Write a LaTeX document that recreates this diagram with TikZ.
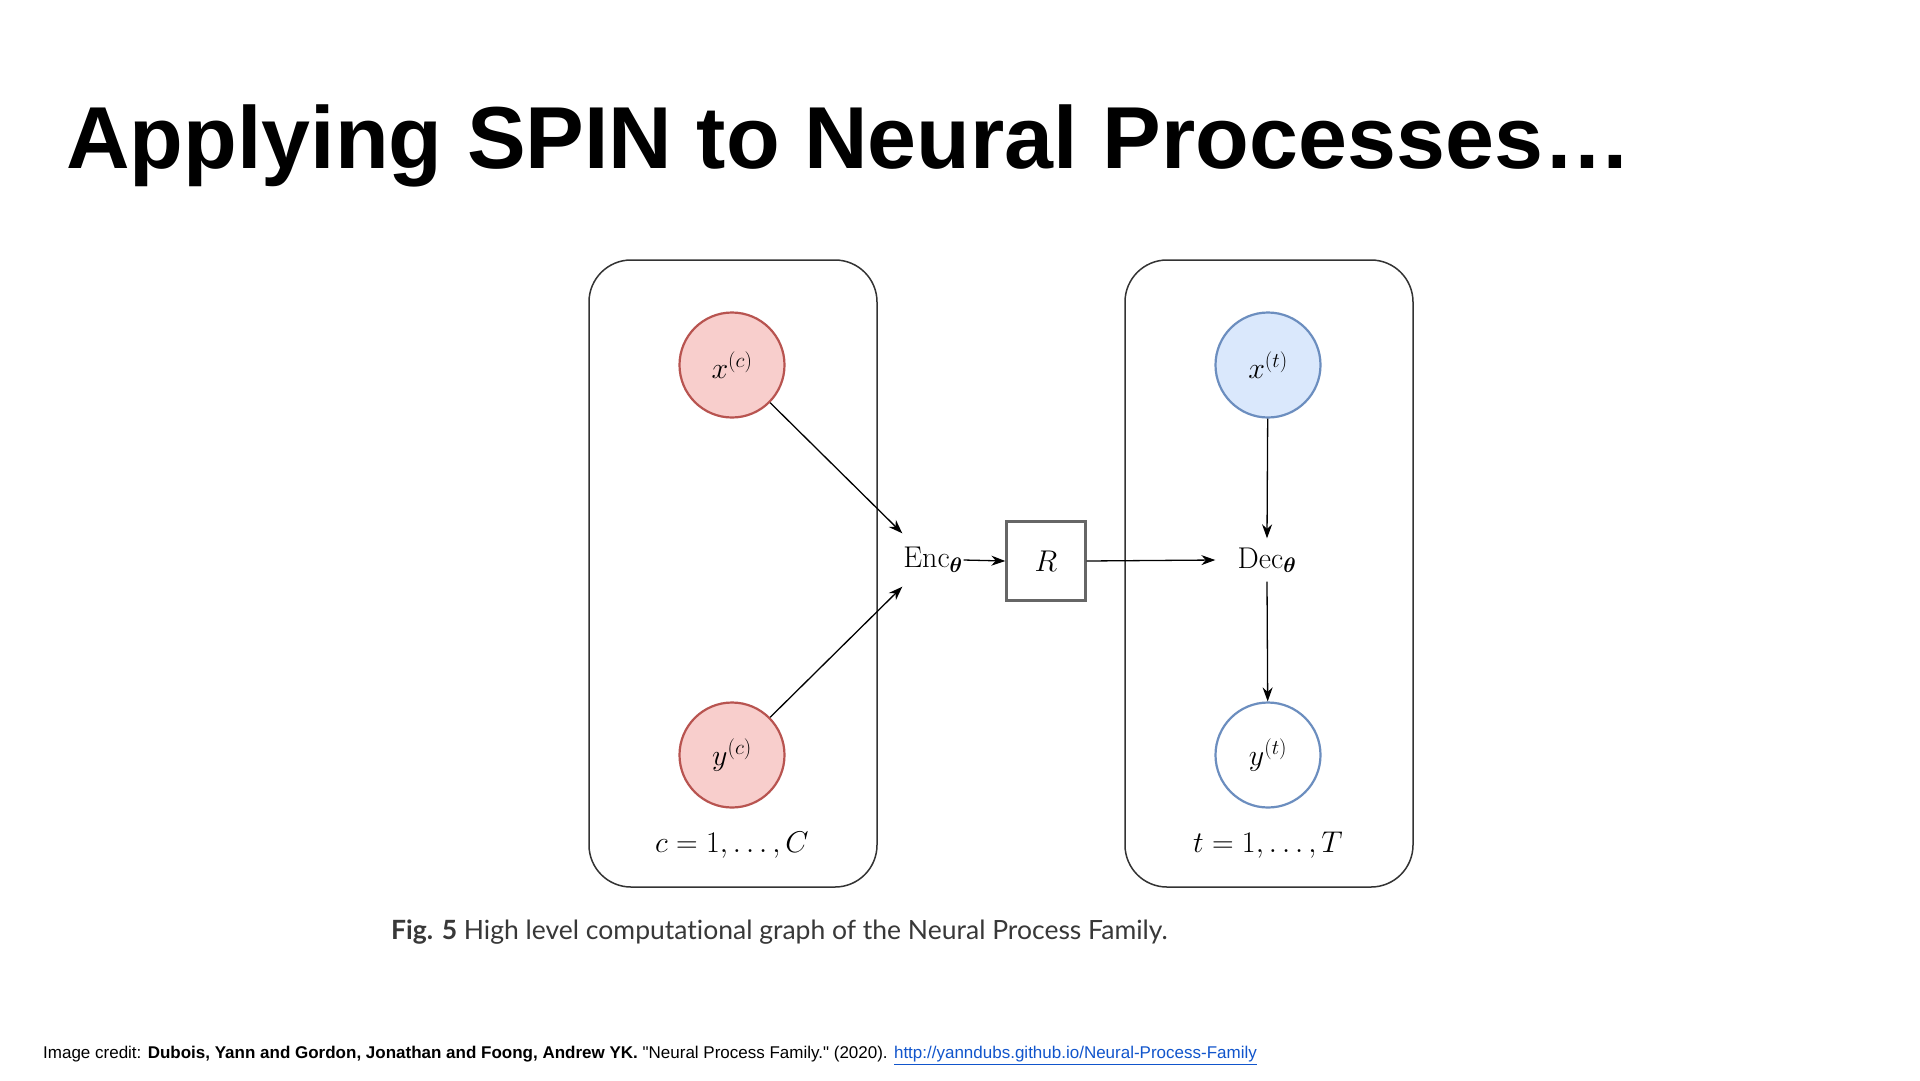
\RequirePackage{fix-cm}
\documentclass[tikz,border=0pt]{standalone}
\usepackage{amsmath,bm}
\usepackage{fontspec}
\newfontfamily\titlefont{Liberation Sans}
\newfontfamily\capfont[Ligatures=NoCommon]{Lato}
\usetikzlibrary{arrows.meta}
\definecolor{redfill}{HTML}{F8CECC}
\definecolor{redline}{HTML}{B85450}
\definecolor{bluefill}{HTML}{DAE8FC}
\definecolor{blueline}{HTML}{6C8EBF}
\definecolor{linkblue}{HTML}{1155CC}
\definecolor{capgray}{HTML}{383838}
\definecolor{boxgray}{HTML}{333333}
\tikzset{
  plate/.style={draw=boxgray, line width=1.5pt, rounded corners=42pt},
  varnode/.style={circle, minimum size=105pt, inner sep=0pt, line width=2.2pt, font=\fontsize{30}{36}\selectfont},
  ctxnode/.style={varnode, draw=redline, fill=redfill},
  tgtnode/.style={varnode, draw=blueline, fill=bluefill},
  outnode/.style={varnode, draw=blueline, fill=white},
  mathlabel/.style={inner sep=0pt, font=\fontsize{30}{36}\selectfont},
  rbox/.style={draw=black!60, line width=2.4pt, minimum size=79pt, inner sep=0pt, font=\fontsize{30}{36}\selectfont},
  conn/.style={-{Stealth[length=14pt,width=10pt]}, line width=1.3pt, black},
}
\begin{document}
\begin{tikzpicture}[x=1pt,y=-1pt]
\useasboundingbox[fill=white] (0,0) rectangle (1920,1080);
% title
\node[anchor=base west, inner sep=0pt, font=\titlefont\bfseries\fontsize{88}{100}\selectfont] (title) at (66,168) {Applying SPIN to Neural Processes…};
% plates
\draw[plate] (589,260) rectangle (877,887);
\draw[plate] (1125,260) rectangle (1413,887);
% nodes
\node[ctxnode] (xc) at (732,365) {$x^{(c)}$};
\node[ctxnode] (yc) at (732,755) {$y^{(c)}$};
\node[tgtnode] (xt) at (1268,365) {$x^{(t)}$};
\node[outnode] (yt) at (1268,755) {$y^{(t)}$};
\node[mathlabel, minimum width=61pt, minimum height=53pt] (enc) at (933,560) {$\mathrm{Enc}_{\bm{\theta}}$};
\node[rbox] (r) at (1046,561) {$R$};
\node[mathlabel, minimum width=103pt, minimum height=43pt] (dec) at (1267,560) {$\mathrm{Dec}_{\bm{\theta}}$};
\node[mathlabel] (cl) at (732,845) {$c=1,\ldots,C$};
\node[mathlabel] (tl) at (1268,845) {$t=1,\ldots,T$};
% connectors
\draw[conn] (xc) -- (enc.north west);
\draw[conn] (yc) -- (enc.south west);
\draw[conn] (enc.east) -- (r.west);
\draw[conn] (r.east) -- (dec.west);
\draw[conn] (xt) -- (dec.north);
\draw[conn] (dec.south) -- (yt);
% caption
\node[anchor=base west, inner sep=0pt, text=capgray, font=\capfont\fontsize{26.5}{32}\selectfont] (cap) at (391,939) {\textbf{Fig. 5} High level computational graph of the Neural Process Family.};
% footer
\node[anchor=base west, inner sep=0pt, font=\titlefont\fontsize{17}{20}\selectfont] (credit) at (43,1058) {Image credit: \textbf{Dubois, Yann and Gordon, Jonathan and Foong, Andrew YK.} "Neural Process Family." (2020). \textcolor{linkblue}{\underline{http://yanndubs.github.io/Neural-Process-Family}}};
\end{tikzpicture}
\end{document}
